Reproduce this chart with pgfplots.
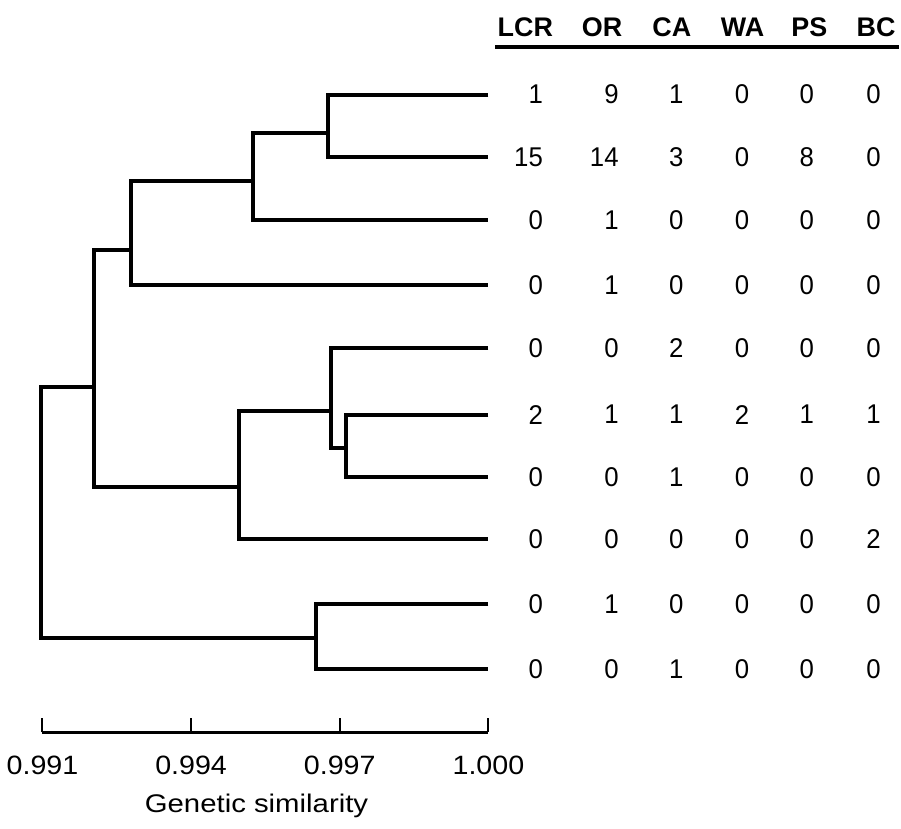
\documentclass[border=0pt]{standalone}
\usepackage{fontspec}
\setmainfont{Liberation Sans}
\newfontfamily\wideA{Liberation Sans}[FakeStretch=1.15]
\newfontfamily\wideB{Liberation Sans}[FakeStretch=1.08]
\newfontfamily\narrowA{Liberation Sans}[FakeStretch=0.95]
\usepackage{pgfplots}
\usepackage{pgfplotstable}
\pgfplotsset{compat=1.18}

% counts per leaf (y = leaf row position, px from top)
\pgfplotstableread{
y   LCR OR CA WA PS BC
95  1   9  1  0  0  0
158 15  14 3  0  8  0
221 0   1  0  0  0  0
286 0   1  0  0  0  0
349 0   0  2  0  0  0
416 2   1  1  2  1  1
479 0   0  1  0  0  0
541 0   0  0  0  0  2
606 0   1  0  0  0  0
671 0   0  1  0  0  0
}\counts

\newcommand{\numfont}{\narrowA\fontsize{13.6}{15}\selectfont}
\newcommand{\hdfont}{\fontsize{13.5}{15}\selectfont\bfseries}
\newcommand{\tickfont}{\wideB\fontsize{13.3}{15}\selectfont}
\newcommand{\labfont}{\wideA\fontsize{12.8}{15}\selectfont}

\pgfplotsset{
  countcol/.style={draw=none, mark=none, nodes near coords,
    point meta=explicit symbolic,
    every node near coord/.append style={font=\numfont, anchor=east, inner sep=0pt}},
  branch/.style={black, line width=2pt, mark=none},
}

\begin{document}
\begin{tikzpicture}
% table of counts, in pixel units
\begin{axis}[name=tab, at={(0,0)}, anchor=south west, scale only axis,
  width=450.5pt, height=415.5pt,
  xmin=0, xmax=901, ymin=-831, ymax=0,
  hide axis, clip=false]
  \addplot[countcol] table[x expr=543, y expr=-\thisrow{y}, meta=LCR] {\counts};
  \addplot[countcol] table[x expr=619, y expr=-\thisrow{y}, meta=OR] {\counts};
  \addplot[countcol] table[x expr=684, y expr=-\thisrow{y}, meta=CA] {\counts};
  \addplot[countcol] table[x expr=750, y expr=-\thisrow{y}, meta=WA] {\counts};
  \addplot[countcol] table[x expr=815, y expr=-\thisrow{y}, meta=PS] {\counts};
  \addplot[countcol] table[x expr=882, y expr=-\thisrow{y}, meta=BC] {\counts};
  \addplot[draw=none, mark=none, nodes near coords, point meta=explicit symbolic,
    every node near coord/.append style={font=\hdfont, anchor=base, inner sep=0pt}]
    coordinates {(525,-37) [LCR] (602,-37) [OR] (672,-37) [CA]
                 (743,-37) [WA] (810,-37) [PS] (877,-37) [BC]};
  \addplot[black, line width=2pt, mark=none] coordinates {(495,-47) (900,-47)};
  \path (axis cs:0,0) rectangle (axis cs:901,-831);
\end{axis}

% dendrogram on the similarity scale
\begin{axis}[at={(20.25pt,48pt)}, anchor=south west, scale only axis,
  width=223.75pt, height=367.5pt,
  xmin=0.991, xmax=1.000, ymin=-735, ymax=0,
  axis x line=bottom, axis y line=none, clip=false,
  axis line style={line width=1.2pt, -},
  xtick={0.991,0.994,0.997,1.000},
  xticklabels={0.991,0.994,0.997,1.000},
  scaled x ticks=false,
  xtick align=inside, major tick length=7.5pt,
  tick style={line width=1pt, black},
  xticklabel style={font=\tickfont, anchor=base, yshift=-21pt},
  xlabel={Genetic similarity},
  xlabel style={font=\labfont,
    at={(axis description cs:0.48,0)}, anchor=base, yshift=-40pt},
  ]
  % A: leaves 1,2
  \addplot[branch] coordinates {(1,-95) (0.99676,-95) (0.99676,-158) (1,-158)};
  % B: A, leaf 3
  \addplot[branch] coordinates {(0.99676,-133) (0.99525,-133) (0.99525,-221) (1,-221)};
  % C: B, leaf 4
  \addplot[branch] coordinates {(0.99525,-182) (0.99278,-182) (0.99278,-286) (1,-286)};
  % G: leaves 6,7
  \addplot[branch] coordinates {(1,-416) (0.99712,-416) (0.99712,-479) (1,-479)};
  % F: leaf 5, G
  \addplot[branch] coordinates {(1,-349) (0.99682,-349) (0.99682,-450) (0.99712,-450)};
  % E: F, leaf 8
  \addplot[branch] coordinates {(0.99682,-412) (0.99497,-412) (0.99497,-541) (1,-541)};
  % D: C, E
  \addplot[branch] coordinates {(0.99278,-251) (0.99204,-251) (0.99204,-489) (0.99497,-489)};
  % H: leaves 9,10
  \addplot[branch] coordinates {(1,-606) (0.99652,-606) (0.99652,-671) (1,-671)};
  % root: D, H
  \addplot[branch] coordinates {(0.99204,-388) (0.99097,-388) (0.99097,-640) (0.99652,-640)};
\end{axis}
\end{tikzpicture}
\end{document}
